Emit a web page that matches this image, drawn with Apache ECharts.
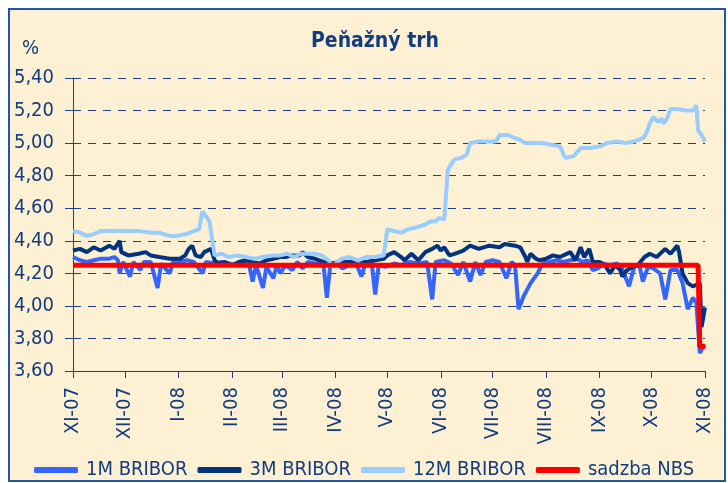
<!DOCTYPE html>
<html>
<head>
<meta charset="utf-8">
<script src="https://cdn.jsdelivr.net/npm/echarts@6/dist/echarts.min.js"></script>
<style>
  html, body { margin: 0; padding: 0; background: #fff; }
  #frame {
    position: absolute; left: 8px; top: 8px; width: 714px; height: 470px;
    border: 2px solid #2155a5; background: #fdf0d3;
  }
  #chart { position: absolute; left: 0; top: 0; width: 728px; height: 483px; }
</style>
</head>
<body>
<div id="frame"></div>
<div id="chart"></div>
<script>
// day index from 1.11.2007
const monthTicks = [0, 30, 61, 92, 121, 152, 182, 213, 243, 274, 305, 335, 366]
const monthLabels = ['XI-07', 'XII-07', 'I-08', 'II-08', 'III-08', 'IV-08', 'V-08', 'VI-08', 'VII-08', 'VIII-08', 'IX-08', 'X-08', 'XI-08']

const bribor1M = [
  [0, 4.30], [4, 4.28], [8, 4.27], [12, 4.28], [16, 4.29], [21, 4.29], [24, 4.30], [26, 4.28], [27, 4.20], [29, 4.27],
  [33, 4.18], [35, 4.27], [39, 4.22], [41, 4.27], [45, 4.27], [49, 4.11], [51, 4.26], [56, 4.20], [58, 4.27], [62, 4.27],
  [66, 4.28], [70, 4.27], [75, 4.20], [77, 4.27], [82, 4.26], [86, 4.27], [90, 4.26], [95, 4.25], [98, 4.26], [102, 4.25],
  [104, 4.15], [106, 4.25], [110, 4.11], [112, 4.24], [116, 4.17], [118, 4.25], [120, 4.20], [123, 4.25], [127, 4.22], [130, 4.27],
  [133, 4.23], [136, 4.27], [140, 4.26], [145, 4.26], [147, 4.05], [149, 4.25], [153, 4.26], [156, 4.23], [160, 4.25], [164, 4.26],
  [167, 4.18], [169, 4.25], [173, 4.26], [175, 4.07], [177, 4.25], [181, 4.24], [186, 4.26], [190, 4.25], [195, 4.27], [200, 4.26],
  [205, 4.27], [208, 4.04], [210, 4.27], [215, 4.28], [219, 4.26], [223, 4.19], [226, 4.27], [230, 4.15], [233, 4.27], [236, 4.19],
  [239, 4.27], [243, 4.28], [247, 4.27], [251, 4.17], [254, 4.27], [256, 4.25], [258, 3.98], [261, 4.06], [265, 4.14], [269, 4.20],
  [272, 4.26], [276, 4.27], [280, 4.28], [284, 4.27], [288, 4.28], [292, 4.29], [295, 4.27], [298, 4.28], [301, 4.22], [304, 4.23],
  [307, 4.26], [311, 4.25], [315, 4.26], [318, 4.23], [322, 4.12], [325, 4.24], [328, 4.25], [330, 4.15], [333, 4.24], [336, 4.23],
  [340, 4.20], [343, 4.04], [346, 4.22], [350, 4.22], [353, 4.14], [356, 3.98], [359, 4.05], [361, 4.02], [363, 3.71], [365, 3.75],
  [366, 3.76]
]

const bribor3M = [
  [0, 4.34], [4, 4.35], [8, 4.33], [12, 4.36], [16, 4.34], [21, 4.37], [24, 4.35], [27, 4.40], [28, 4.33], [32, 4.31],
  [38, 4.32], [42, 4.33], [45, 4.31], [50, 4.30], [56, 4.29], [62, 4.29], [65, 4.31], [67, 4.35], [69, 4.37], [71, 4.31],
  [74, 4.30], [76, 4.33], [80, 4.35], [82, 4.28], [84, 4.26], [88, 4.27], [92, 4.25], [96, 4.27], [100, 4.28], [104, 4.27],
  [108, 4.26], [112, 4.28], [116, 4.29], [120, 4.30], [123, 4.30], [127, 4.31], [131, 4.31], [133, 4.33], [136, 4.30], [140, 4.29],
  [145, 4.27], [149, 4.26], [155, 4.27], [160, 4.27], [165, 4.28], [170, 4.27], [175, 4.28], [180, 4.29], [182, 4.31], [186, 4.33],
  [190, 4.30], [192, 4.28], [196, 4.32], [200, 4.28], [204, 4.33], [208, 4.35], [211, 4.37], [213, 4.34], [215, 4.36], [218, 4.31],
  [221, 4.32], [226, 4.34], [230, 4.37], [235, 4.35], [241, 4.37], [247, 4.36], [250, 4.38], [256, 4.37], [259, 4.36], [262, 4.30],
  [263, 4.27], [265, 4.32], [268, 4.29], [270, 4.28], [274, 4.29], [278, 4.31], [282, 4.30], [288, 4.33], [291, 4.28], [294, 4.36],
  [296, 4.30], [299, 4.35], [301, 4.27], [305, 4.27], [308, 4.25], [311, 4.20], [314, 4.25], [317, 4.22], [318, 4.18], [321, 4.22],
  [324, 4.24], [327, 4.25], [331, 4.30], [334, 4.32], [338, 4.30], [343, 4.35], [346, 4.32], [350, 4.37], [351, 4.33], [353, 4.20],
  [356, 4.14], [359, 4.12], [361, 4.13], [363, 4.14], [364, 3.87], [366, 3.99]
]

const bribor12M = [
  [0, 4.46], [4, 4.45], [8, 4.43], [12, 4.44], [16, 4.46], [22, 4.46], [30, 4.46], [38, 4.46], [45, 4.45], [50, 4.45],
  [56, 4.43], [60, 4.43], [65, 4.44], [70, 4.46], [73, 4.47], [75, 4.58], [76, 4.59], [79, 4.52], [82, 4.31], [86, 4.32],
  [90, 4.30], [95, 4.31], [100, 4.30], [105, 4.29], [110, 4.30], [116, 4.31], [120, 4.31], [124, 4.32], [128, 4.30], [132, 4.32],
  [136, 4.32], [140, 4.32], [144, 4.31], [148, 4.28], [150, 4.24], [153, 4.27], [156, 4.29], [160, 4.30], [165, 4.28], [170, 4.30],
  [175, 4.30], [180, 4.31], [182, 4.47], [186, 4.46], [190, 4.45], [194, 4.47], [198, 4.48], [201, 4.49], [204, 4.50], [207, 4.52],
  [210, 4.52], [212, 4.54], [215, 4.53], [217, 4.83], [219, 4.87], [221, 4.90], [225, 4.91], [228, 4.93], [230, 5.00], [235, 5.01],
  [240, 5.01], [245, 5.01], [247, 5.05], [252, 5.05], [256, 5.03], [259, 5.02], [262, 5.00], [268, 5.00], [272, 5.00], [277, 4.99],
  [282, 4.98], [285, 4.91], [290, 4.92], [294, 4.97], [300, 4.97], [305, 4.98], [309, 5.00], [315, 5.01], [320, 5.00], [325, 5.01],
  [330, 5.03], [332, 5.06], [334, 5.12], [336, 5.16], [339, 5.13], [341, 5.15], [342, 5.12], [344, 5.15], [346, 5.21], [350, 5.21],
  [355, 5.20], [359, 5.20], [361, 5.23], [362, 5.08], [364, 5.05], [366, 5.01]
]

const sadzbaNBS = [[0, 4.25], [362, 4.25], [363, 3.75], [366, 3.75]]

const seriesNames = ['1M BRIBOR', '3M BRIBOR', '12M BRIBOR', 'sadzba NBS']

const FONT = "'DejaVu Sans Condensed', 'Liberation Sans Narrow', sans-serif"
const NAVY = '#123c80'
const AXIS = '#1f3f84'

const chart = echarts.init(document.getElementById('chart'))

const option = {
  animation: false,
  backgroundColor: 'transparent',
  textStyle: { fontFamily: FONT },
  graphic: [
    {
      type: 'text',
      x: 375,
      y: 42,
      style: {
        text: 'Peňažný trh',
        font: 'bold 21px ' + FONT,
        fill: NAVY,
        align: 'center',
        verticalAlign: 'middle'
      }
    },
    {
      type: 'text',
      x: 22,
      y: 49,
      style: {
        text: '%',
        font: '20px ' + FONT,
        fill: NAVY,
        align: 'left',
        verticalAlign: 'middle'
      }
    }
  ],
  legend: {
    data: seriesNames,
    left: 29,
    top: 455,
    icon: 'roundRect',
    itemWidth: 44,
    itemHeight: 6,
    itemGap: 10,
    textStyle: {
      color: NAVY,
      fontSize: 20,
      fontFamily: FONT,
      padding: [0, 0, 0, 3]
    }
  },
  grid: {
    left: 73,
    right: 23,
    top: 78,
    bottom: 112,
    containLabel: false
  },
  xAxis: {
    type: 'value',
    min: 0,
    max: 366,
    axisLine: { lineStyle: { color: AXIS, width: 1 } },
    axisTick: {
      show: true,
      length: 7,
      customValues: monthTicks,
      lineStyle: { color: AXIS }
    },
    axisLabel: {
      customValues: monthTicks,
      rotate: 90,
      margin: 16,
      color: NAVY,
      fontSize: 20,
      fontFamily: FONT,
      formatter: (v) => monthLabels[monthTicks.indexOf(Math.round(v))] || ''
    },
    splitLine: { show: false }
  },
  yAxis: {
    type: 'value',
    min: 3.6,
    max: 5.4,
    interval: 0.2,
    axisLine: { show: true, lineStyle: { color: AXIS, width: 1 } },
    axisTick: { show: true, length: 8, lineStyle: { color: AXIS } },
    axisLabel: {
      margin: 19,
      color: NAVY,
      fontSize: 20,
      fontFamily: FONT,
      formatter: (v) => v.toFixed(2).replace('.', ',')
    },
    splitLine: {
      lineStyle: { color: AXIS, width: 1, type: [8, 7] }
    }
  },
  series: [
    {
      name: '1M BRIBOR',
      type: 'line',
      data: bribor1M,
      showSymbol: false,
      color: '#3366ff',
      lineStyle: { width: 4, color: '#3366ff' }
    },
    {
      name: '3M BRIBOR',
      type: 'line',
      data: bribor3M,
      showSymbol: false,
      color: '#003380',
      lineStyle: { width: 4, color: '#003380' }
    },
    {
      name: '12M BRIBOR',
      type: 'line',
      data: bribor12M,
      showSymbol: false,
      color: '#99ccff',
      lineStyle: { width: 4, color: '#99ccff' }
    },
    {
      name: 'sadzba NBS',
      type: 'line',
      data: sadzbaNBS,
      showSymbol: false,
      color: '#ff0000',
      lineStyle: { width: 5, color: '#ff0000' }
    }
  ]
}

chart.setOption(option)
</script>
</body>
</html>
